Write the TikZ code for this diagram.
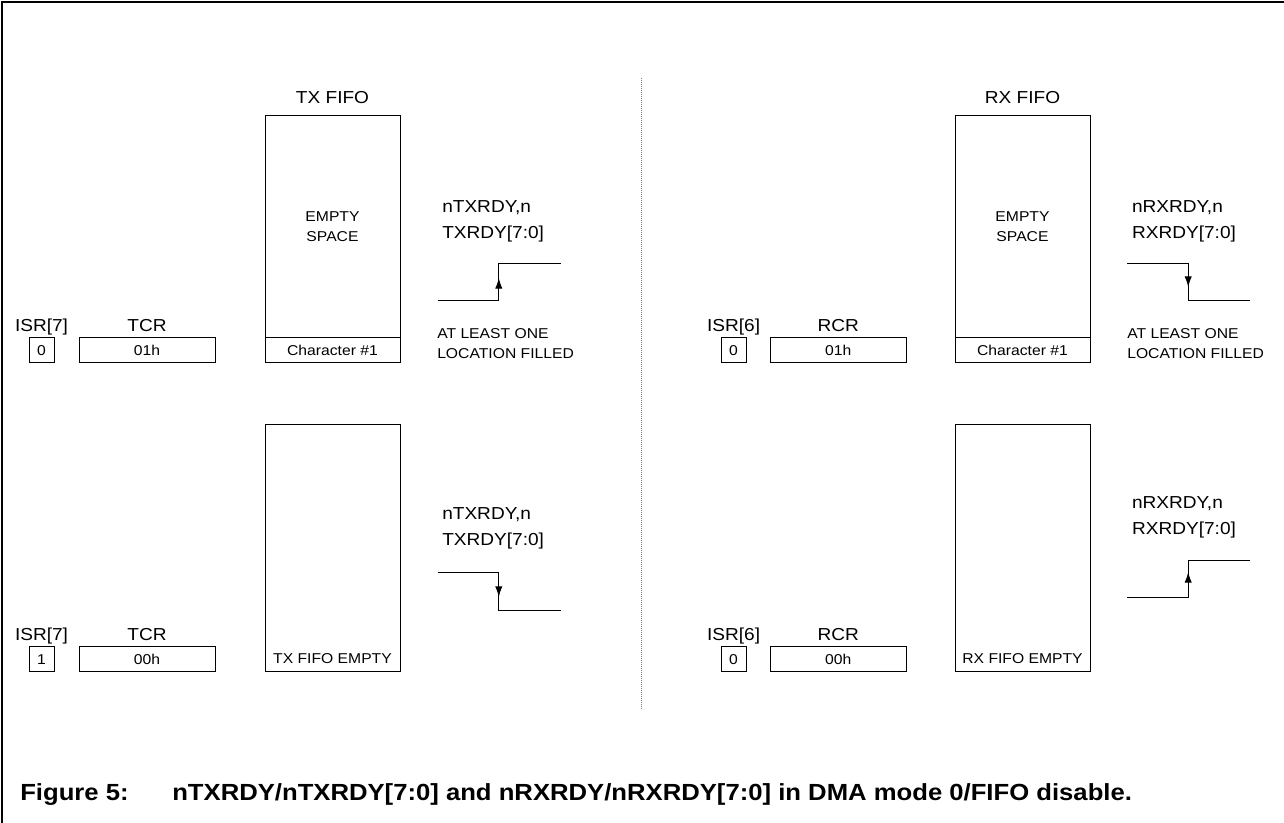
\documentclass[tikz,border=0pt]{standalone}
\usepackage{fontspec}
\setmainfont{Liberation Sans}[FakeStretch=1.1]
\usetikzlibrary{positioning,arrows.meta}

\begin{document}
\begin{tikzpicture}[x=0.75pt,y=-0.75pt,
    box/.style={draw,line width=0.7pt,inner sep=0pt,font=\fontsize{10.7}{12}\selectfont},
    bit/.style={box,minimum width=18.75pt,minimum height=18.75pt},
    cnt/.style={box,minimum width=102pt,minimum height=18.75pt},
    fifo/.style={box,minimum width=101.25pt,minimum height=185.25pt},
    chr/.style={box,minimum width=101.25pt,minimum height=18.75pt,anchor=south},
    big/.style={inner sep=0pt,font=\fontsize{13}{15}\selectfont},
    small/.style={inner sep=0pt,align=left,font=\fontsize{10.7}{15}\selectfont},
    sname/.style={inner sep=0pt,align=left,font=\fontsize{13}{19.5}\selectfont},
    capt/.style={inner sep=0pt,anchor=base west,font=\bfseries\fontsize{17.5}{20}\selectfont},
    sig/.style={line width=0.7pt},
    edge/.style={line width=0.7pt,-{Latex[length=8pt,width=5.5pt]}}
  ]
  \useasboundingbox (0,0) rectangle (1284,823);
  \draw[line width=1.5pt] (1284,2) -- (2,2) -- (2,823);
  \draw[densely dotted,gray,line width=0.5pt] (641.7,77.7) -- (641.7,708);

  % TX, at least one location filled
  \node[bit] (isrA) at (41.5,350.2) {0};
  \node[cnt] (tcrA) at (147,350.2) {01h};
  \node[fifo] (txA) at (332.5,239.2) {};
  \node[chr] (txcA) at (txA.south) {Character \#1};
  \node[big,anchor=base] at ([yshift=4.5pt]isrA.north) {ISR[7]};
  \node[big,anchor=base] at ([yshift=4.5pt]tcrA.north) {TCR};
  \node[big,anchor=base] at ([yshift=8.6pt]txA.north) {TX FIFO};
  \node[small,align=center] at (332.5,227) {EMPTY\\SPACE};
  \node[sname,anchor=west] at (442,221) {nTXRDY,n\\TXRDY[7:0]};
  \node[small,anchor=west] at (437,344) {AT LEAST ONE\\LOCATION FILLED};
  \coordinate (a1) at (437.6,300);
  \coordinate (a2) at (498.8,300);
  \coordinate (a3) at (498.8,263.3);
  \coordinate (a4) at (561.2,263.3);
  \coordinate (am) at (498.8,278);
  \draw[sig] (a1) -- (a2) -- (a3) -- (a4);
  \draw[edge] (a2) -- (am);

  % TX, fifo empty
  \node[bit] (isrB) at (41.5,659.2) {1};
  \node[cnt] (tcrB) at (147,659.2) {00h};
  \node[fifo] (txB) at (332.5,547.7) {};
  \node[chr,draw=none] (txcB) at (txB.south) {TX FIFO EMPTY};
  \node[big,anchor=base] at ([yshift=4.5pt]isrB.north) {ISR[7]};
  \node[big,anchor=base] at ([yshift=4.5pt]tcrB.north) {TCR};
  \node[sname,anchor=west] at (442,528.7) {nTXRDY,n\\TXRDY[7:0]};
  \coordinate (b1) at (437.6,572.7);
  \coordinate (b2) at (498.8,572.7);
  \coordinate (b3) at (498.8,610);
  \coordinate (b4) at (561.2,610);
  \coordinate (bm) at (498.8,597);
  \draw[sig] (b1) -- (b2) -- (b3) -- (b4);
  \draw[edge] (b2) -- (bm);

  % RX, at least one location filled
  \node[bit] (isrC) at (733.6,350.2) {0};
  \node[cnt] (rcrC) at (838.2,350.2) {01h};
  \node[fifo] (rxC) at (1022.5,239.2) {};
  \node[chr] (rxcC) at (rxC.south) {Character \#1};
  \node[big,anchor=base] at ([yshift=4.5pt]isrC.north) {ISR[6]};
  \node[big,anchor=base] at ([yshift=4.5pt]rcrC.north) {RCR};
  \node[big,anchor=base] at ([yshift=8.6pt]rxC.north) {RX FIFO};
  \node[small,align=center] at (1022.5,227) {EMPTY\\SPACE};
  \node[sname,anchor=west] at (1131.8,221) {nRXRDY,n\\RXRDY[7:0]};
  \node[small,anchor=west] at (1127,344) {AT LEAST ONE\\LOCATION FILLED};
  \coordinate (c1) at (1127,263.3);
  \coordinate (c2) at (1188.2,263.3);
  \coordinate (c3) at (1188.2,300);
  \coordinate (c4) at (1250.2,300);
  \coordinate (cm) at (1188.2,287);
  \draw[sig] (c1) -- (c2) -- (c3) -- (c4);
  \draw[edge] (c2) -- (cm);

  % RX, fifo empty
  \node[bit] (isrD) at (733.6,659.2) {0};
  \node[cnt] (rcrD) at (838.2,659.2) {00h};
  \node[fifo] (rxD) at (1022.5,547.7) {};
  \node[chr,draw=none] (rxcD) at (rxD.south) {RX FIFO EMPTY};
  \node[big,anchor=base] at ([yshift=4.5pt]isrD.north) {ISR[6]};
  \node[big,anchor=base] at ([yshift=4.5pt]rcrD.north) {RCR};
  \node[sname,anchor=west] at (1131.8,517) {nRXRDY,n\\RXRDY[7:0]};
  \coordinate (d1) at (1127,597.3);
  \coordinate (d2) at (1188.2,597.3);
  \coordinate (d3) at (1188.2,560);
  \coordinate (d4) at (1250.2,560);
  \coordinate (dm) at (1188.2,572);
  \draw[sig] (d1) -- (d2) -- (d3) -- (d4);
  \draw[edge] (d2) -- (dm);

  % caption
  \node[capt] (fig) at (20,800) {Figure 5:};
  \node[capt] (cap) at (172,800)
    {nTXRDY/nTXRDY[7:0] and nRXRDY/nRXRDY[7:0] in DMA mode 0/FIFO disable.};
\end{tikzpicture}
\end{document}
